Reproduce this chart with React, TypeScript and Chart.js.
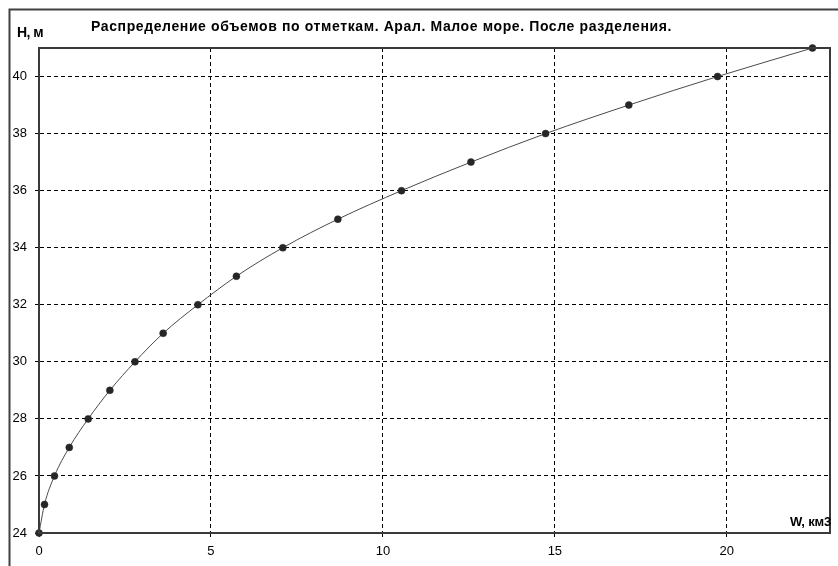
import React, { useEffect, useRef } from "react";
import { Chart, registerables } from "chart.js";

Chart.register(...registerables);

const TITLE = "Распределение объемов по отметкам. Арал. Малое море. После разделения.";
const Y_LABEL = "Н, м";
const X_LABEL = "W, км3";

// W, km3 (volume) for each level H, m
const W = [0, 0.16, 0.45, 0.88, 1.43, 2.06, 2.79, 3.61, 4.62, 5.74, 7.09, 8.69, 10.54, 12.56, 14.73, 17.15, 19.73, 22.49];
const H = [24, 25, 26, 27, 28, 29, 30, 31, 32, 33, 34, 35, 36, 37, 38, 39, 40, 41];

const X_MIN = 0;
const X_MAX = 23;
const X_STEP = 5;
const Y_MIN = 24;
const Y_MAX = 41;
const Y_STEP = 2;

const FONT = "'Liberation Sans', Arial, sans-serif";
const NARROW = "'Liberation Sans Narrow', 'Arial Narrow', 'Liberation Sans', sans-serif";

function fitText(ctx: CanvasRenderingContext2D, text: string, x: number, y: number, width: number) {
  ctx.save();
  (ctx as any).letterSpacing = "0px";
  const m = ctx.measureText(text).width;
  const ls = (width - m) / text.length;
  (ctx as any).letterSpacing = ls + "px";
  ctx.fillText(text, x, y);
  ctx.restore();
}

const decor = {
  id: "decor",
  afterDraw(chart: any) {
    const ctx: CanvasRenderingContext2D = chart.ctx;
    const a = chart.chartArea;
    ctx.save();
    // plot box
    ctx.strokeStyle = "#3a3a3a";
    ctx.lineWidth = 2;
    ctx.strokeRect(a.left, a.top, a.right - a.left, a.bottom - a.top);
    // outer frame
    ctx.beginPath();
    ctx.moveTo(9.5, 566);
    ctx.lineTo(9.5, 9.5);
    ctx.lineTo(838, 9.5);
    ctx.lineWidth = 2;
    ctx.strokeStyle = "#404040";
    ctx.stroke();
    // texts
    ctx.fillStyle = "#000";
    ctx.textBaseline = "middle";
    ctx.textAlign = "left";
    ctx.font = "bold 14px " + NARROW;
    fitText(ctx, TITLE, 91, 27, 581);
    fitText(ctx, Y_LABEL, 17, 33, 26);
    ctx.font = "bold 13px " + NARROW;
    fitText(ctx, X_LABEL, a.right - 40, a.bottom - 11, 41);
    ctx.restore();
  },
};

export default function App() {
  const ref = useRef<HTMLCanvasElement | null>(null);
  useEffect(() => {
    if (!ref.current) return;
    const points = W.map((w, i) => ({ x: w, y: H[i] }));
    const chart = new Chart(ref.current, {
      type: "line",
      data: {
        datasets: [
          {
            data: points,
            borderColor: "#4a4a4a",
            borderWidth: 1,
            pointRadius: 3.5,
            pointBackgroundColor: "#262626",
            pointBorderColor: "#262626",
            pointBorderWidth: 0.5,
            tension: 0.4,
            cubicInterpolationMode: "monotone",
            fill: false,
            clip: false,
          },
        ],
      },
      options: {
        animation: false,
        responsive: false,
        events: [],
        layout: { padding: { left: 9, top: 48, right: 8, bottom: 0 } },
        plugins: { legend: { display: false }, tooltip: { enabled: false }, title: { display: false } },
        scales: {
          x: {
            type: "linear",
            min: X_MIN,
            max: X_MAX,
            afterBuildTicks: (s: any) => {
              s.ticks = s.ticks.filter((t: any) => t.value % X_STEP === 0);
            },
            afterFit: (s: any) => {
              s.height = 33;
            },
            ticks: { stepSize: X_STEP, color: "#000", font: { family: FONT, size: 13 }, padding: 7, maxRotation: 0 },
            grid: { color: "#000", lineWidth: 1, tickLength: 4, tickColor: "#000" },
            border: { display: true, color: "#3a3a3a", width: 2, dash: [4, 3] },
          },
          y: {
            type: "linear",
            min: Y_MIN,
            max: Y_MAX,
            afterBuildTicks: (s: any) => {
              s.ticks = s.ticks.filter((t: any) => t.value % Y_STEP === 0);
            },
            afterFit: (s: any) => {
              s.width = 30;
            },
            ticks: { stepSize: Y_STEP, color: "#000", font: { family: FONT, size: 13 }, padding: 8 },
            grid: { color: "#000", lineWidth: 1, tickLength: 4, tickColor: "#000" },
            border: { display: true, color: "#3a3a3a", width: 2, dash: [4, 3] },
          },
        },
      } as any,
      plugins: [decor],
    });
    return () => chart.destroy();
  }, []);
  return (
    <div style={{ position: "fixed", left: 0, top: 0, width: 838, height: 566, background: "#fff" }}>
      <canvas ref={ref} width={838} height={566} style={{ display: "block" }} />
    </div>
  );
}
